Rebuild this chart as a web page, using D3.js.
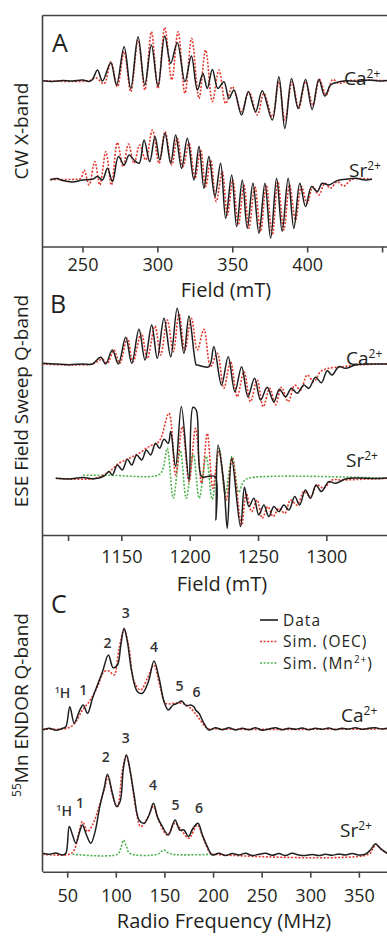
<!DOCTYPE html>
<html>
<head>
<meta charset="utf-8">
<script src="https://cdn.jsdelivr.net/npm/d3@7"></script>
<style>
  body { margin: 0; background: #fff; }
  svg text { font-family: "Open Sans", "Noto Sans", sans-serif; fill: #231f20; }
</style>
</head>
<body>
<svg id="chart" width="387" height="938"></svg>
<script>
// ---- data: [x, signal] (signal in arbitrary units) ----

// panel A: CW X-band, field in mT
const aCaData = [[223.3,0],[230,-0.7],[236.7,0.3],[243.3,-0.3],[250,0.7],[254.4,-0.7],[256.7,1.3],[260,10.7],[263.3,-0.3],[268.9,18],[272.7,-4.3],[277.8,34],[282.2,-7.7],[287.1,44],[291.6,-4.3],[296,35.7],[300.4,-5.3],[304.9,44.7],[308.9,17.3],[313.3,38],[318.4,-1],[322.7,24.7],[326.7,-9.3],[330.4,7.3],[333.3,-7.7],[336.7,11.3],[340.4,-7.7],[344.4,-1],[347.8,-17.7],[351.1,-9.3],[356.2,-34.3],[360.7,-11],[365.6,-31],[370,-10],[376.7,-39.3],[381.1,4],[385.1,-47.7],[389.6,2.3],[394,-27.7],[398.9,1.3],[403.3,-28.7],[407.8,1.3],[411.8,-15.3],[415.6,-4.3],[418.9,-2],[425.6,0],[434.4,-0.7],[441.1,0.7],[447.8,-0.3],[453.3,0.3]];
const aCaSim = [[223.3,0],[254.4,0],[258.9,3],[264.4,-3],[268.9,19],[273.3,-6],[277.8,29],[282.2,-11],[287.1,40.7],[291.6,-9.3],[296,49],[300.4,-7.7],[304.9,53.3],[309.6,0.7],[313.8,49],[318.4,-12.7],[322.9,42.3],[327.8,-17.7],[332.2,30.7],[336.7,-21],[341.1,10.7],[345.6,-22.7],[350,-6],[356.2,-31],[361.1,-11],[366.7,-34.3],[371.1,-12.7],[376.7,-36],[381.1,-1],[385.1,-39.3],[390,-1],[394.4,-27.7],[398.9,-1],[403.8,-24.3],[408.2,1.3],[412.7,-14.3],[417.1,1.3],[421.1,-2.7],[427.8,0],[453.3,0]];
const aSrData = [[228.5,-0.7],[233,0.7],[236.7,-1.3],[243.3,-2.7],[250,-0.7],[256.7,0],[260,2.7],[263.3,-0.7],[266.7,11],[270,-2.3],[274,22.7],[277.8,14.3],[281.1,24.3],[284.4,19.3],[287.8,16],[291.1,39.3],[294.9,17.7],[298.4,42.7],[301.6,19.3],[305.1,46],[308.9,16],[312.2,44.3],[316.2,11],[320,41],[324.4,-0.7],[327.8,32.7],[331.1,-9],[334.4,22.7],[338.4,-17.3],[342.2,16],[345.6,-39],[349.6,4.3],[352.9,-47.3],[356.7,-0.7],[360,-49],[363.8,-4],[367.8,-54],[371.8,-4],[375.6,-59],[379.6,1],[383.3,-52],[387.3,1],[391.1,-49],[395.1,-4],[398.9,-27.3],[402.9,-7.3],[406.7,-12.3],[410,-4],[414.4,-5.7],[420,-1.3],[425.6,0],[432.2,1],[438.9,-0.7],[443.3,0]];
const aSrSim = [[228.5,0],[245.6,0],[248.9,1],[251.1,9.3],[254.4,-5.7],[258.2,17.7],[261.6,-5.7],[265.6,27.7],[269.3,-5.7],[273.3,36.7],[277.1,12.7],[280.7,35.3],[284.4,16],[288.2,34.3],[292.2,19.3],[296.7,49.3],[301.1,16],[305.1,47.7],[309.6,14.3],[313.3,41],[317.1,12.7],[321.1,36],[325.1,1],[328.9,29.3],[332.2,-7.3],[335.6,19.3],[339.3,-22.3],[343.3,7.7],[346.7,-35.7],[350.4,-0.7],[354,-45.7],[357.8,-5.7],[361.1,-49],[365.1,-7.3],[368.9,-52.3],[372.7,-5.7],[376.7,-55.7],[380.4,-2.3],[384.4,-50.7],[388.2,-5.7],[392.2,-40.7],[396.2,-7.3],[400,-24],[403.8,-7.3],[407.8,-15.7],[411.8,-4],[415.6,-9],[420,-2.3],[424.4,-6.7],[430,0],[443.3,0]];

// panel B: ESE field sweep Q-band, field in mT
const bCaData = [[1092.3,0.7],[1102,0],[1111.7,-0.7],[1121.5,0],[1128.8,0],[1134.9,6.7],[1138.5,0],[1143.4,14],[1147.8,0],[1153.2,26.7],[1157.6,0.7],[1162.9,34.7],[1167.3,4],[1172.2,39],[1176.3,5.7],[1181.2,45.7],[1186.1,7.3],[1190.9,55.7],[1195.8,10.7],[1199.5,48],[1204.8,-1],[1205.6,-1],[1214.1,-2.7],[1217.7,17.3],[1223.3,-21],[1228.2,7.3],[1233.1,-27.7],[1238,-2.7],[1242.6,-32.7],[1247.5,-14.3],[1251.9,-36],[1256.7,-23.3],[1261.6,-37.7],[1265.7,-25.3],[1270.1,-32.7],[1274.5,-24.3],[1278.7,-29.3],[1283.5,-21],[1287.2,-24.3],[1292.1,-13.3],[1296.4,-18.7],[1300.6,-6.7],[1304.2,-11],[1309.1,-2.7],[1314,-4.3],[1321.3,-1],[1331,0],[1344.4,0]];
const bCaSim = [[1092.3,0],[1128.8,0],[1136.1,4.7],[1139.8,0.7],[1144.6,14],[1148.8,0.7],[1154.4,25.7],[1158.5,2.3],[1164.6,30.7],[1169,5.7],[1174.6,38],[1178.8,9],[1183.6,44],[1188,12.3],[1192.2,50],[1196.5,14],[1201.2,45.7],[1205.6,14],[1210.4,34.7],[1215.3,-2.7],[1220.2,10.7],[1225,-24.3],[1229.9,2.3],[1234.8,-32.7],[1239.7,-7.7],[1244.5,-37.7],[1249.4,-16],[1253.8,-42.7],[1258.6,-24.3],[1262.8,-41],[1267.2,-23.3],[1272.1,-37.7],[1276.9,-21],[1281.1,-26],[1286,-11],[1290.8,-17.7],[1295.7,-7.7],[1301.8,-4.3],[1311.5,-2.7],[1321.3,-1],[1344.4,0]];
const bSrData = [[1102,0],[1111.7,-0.7],[1121.5,0.7],[1131.2,-0.3],[1137.3,2.3],[1141,6.7],[1143.4,3.3],[1147.1,13.3],[1150.7,8.3],[1154.4,19],[1157.6,13.3],[1161.2,23.3],[1164.9,18.3],[1168.3,28.3],[1171.4,23.3],[1175.1,35],[1178,30],[1181.2,39],[1184.3,35],[1186.1,46.7],[1189.7,11.7],[1193.9,71.7],[1199.5,-1.7],[1202.4,71],[1204.8,68.3],[1208.7,1.7],[1213,1.7],[1218.7,1.7],[1219.2,-41.7],[1220.7,33.3],[1225,-5],[1227.5,-50],[1230.7,20],[1237.2,-48.3],[1240.1,-9],[1243.3,-28.3],[1247,-20],[1250.6,-36.7],[1254.3,-26.7],[1257.9,-38.3],[1261.6,-28.3],[1265.3,-33.3],[1268.9,-26.7],[1272.6,-31.7],[1276.9,-18.3],[1280.4,-26.7],[1284.7,-11.7],[1288.4,-20],[1292.5,-6.7],[1296.4,-13.3],[1301.8,-3.3],[1306.7,-5],[1314,-0.7],[1323.7,0.3],[1335.9,-0.3],[1344.4,0.3]];
const bSrSim = [[1102,0],[1131.2,0],[1141,6.7],[1148.3,15],[1155.6,20],[1162.9,25],[1170.2,31.7],[1177.5,36.7],[1184.8,65],[1189.7,3.3],[1194.6,51.7],[1199.5,-3.3],[1204.3,50],[1208.7,-5],[1212.9,45],[1217,-10],[1221.4,28.3],[1226.8,-21.7],[1231.1,20],[1238,-46.7],[1241.4,-15],[1245.3,-33.3],[1249.4,-21.7],[1253.1,-40],[1257.2,-28.3],[1261.1,-38.3],[1265.3,-30],[1269.7,-35],[1273.8,-21.7],[1278.7,-26.7],[1283.5,-13.3],[1288.4,-18.3],[1293.2,-6.7],[1298.1,-10],[1304.2,-1.7],[1311.5,-1.7],[1344.4,0]];
const bSrMn = [[1122,3],[1141,3],[1177.5,3.5],[1180.5,10],[1183.6,30],[1188,-20],[1193.1,28],[1197.5,-20],[1202.6,24],[1207,-20],[1212.1,22],[1216.5,-21],[1221.6,30],[1226,-15],[1231.1,22],[1235.9,-14],[1239.5,-3],[1244.5,0.5],[1344.4,0]];

// panel C: 55Mn ENDOR Q-band, radio frequency in MHz
const cCaData = [[24.7,-1],[31.5,0.7],[38.4,-1.3],[45.2,0.7],[48.6,2.3],[52.7,22.3],[57.2,5.7],[62.3,17.3],[66.4,24],[70.9,15.7],[76,30.7],[81.1,44],[86.3,57.3],[92.4,74],[97.2,61.3],[101.7,64],[105.1,84],[108.5,100.7],[111.9,87.3],[116.4,57.3],[122.2,37.3],[127.3,35.7],[133.5,47.3],[139.3,68],[144.5,50.7],[149.6,27.3],[154,19],[158.8,24],[163.3,25.7],[167.7,28],[172.5,23.3],[177,24],[180.5,22],[182.1,19],[185.5,15.7],[190.7,5.7],[195.8,-1],[202.6,1.3],[209.5,-0.7],[216.3,1.3],[223.2,-1],[230,0.7],[236.9,-0.7],[243.7,1.3],[250.5,-1.3],[257.4,0],[264.2,1.3],[271.1,-0.7],[277.9,0.7],[284.8,-0.3],[291.6,1],[298.5,-0.7],[305.3,0.7],[312.2,-0.3],[319,1],[325.8,-0.7],[332.7,0.7],[339.5,0],[346.4,1.3],[353.2,-0.3],[360.1,0.7],[366.9,1.3],[373.7,0],[378.9,0.7]];
const cCaSim = [[24.7,0],[45.2,0],[53.8,2.3],[58.9,7.3],[65.8,19],[72.6,27.3],[81.1,42.3],[88,57.3],[93.1,58],[98.2,54],[103.4,80.7],[108.5,99],[113.6,80.7],[118.8,47.3],[125.6,39],[132.5,50.7],[139.3,64],[145.1,44],[151.3,25.7],[159.8,25.7],[168.4,25.7],[177,20.7],[185.5,10.7],[194.1,0.7],[202.6,0],[378.9,0]];
const cSrData = [[24.7,1],[31.5,0],[38.4,1.3],[45.2,-0.7],[48.6,1],[52.1,27.7],[55.5,19.3],[58.9,11],[63,23.3],[65.7,29.3],[69.8,19.3],[74.3,11],[78.7,22.7],[83.5,47.7],[88,66],[91.4,80],[96.5,61],[100.7,47.7],[104.4,52.7],[107.8,86],[110.9,99.3],[114.3,86],[118.8,59.3],[123.9,34.3],[129.1,31],[134.2,39.3],[138.7,51],[142.7,37.7],[147.9,27.7],[154,19.3],[160.9,34.3],[165.7,24.3],[170.1,24.3],[174.6,17.7],[179.4,26],[184.5,31],[189,19.3],[194.1,7.7],[199.2,-0.7],[206.1,1],[212.9,-1.3],[219.7,0.7],[226.6,-0.7],[233.4,1],[240.3,-1.3],[247.1,0],[254,1],[260.8,-1],[267.7,0.7],[274.5,-1.3],[281.3,1],[288.2,-0.7],[295,-1.3],[301.9,-0.3],[308.7,-1.3],[315.6,0],[322.4,-1],[329.3,0.3],[336.1,-0.7],[343,0.7],[349.8,-0.7],[356.6,0],[361.8,4.3],[366.9,10.3],[372.1,6],[378.9,1]];
const cSrSim = [[24.7,0],[52.1,0],[57.2,4.3],[62.3,22.7],[65.7,32.7],[70.9,22.7],[76,29.3],[82.8,47.7],[88,64.3],[92.1,77.7],[96.5,59.3],[101.7,47.7],[106.8,84.3],[110.9,98.7],[115.4,79.3],[120.5,46],[125.6,27.7],[132.5,36],[138.7,47.7],[144.5,32.7],[153,19.3],[160.9,31],[168.4,22.7],[175.2,16],[183.8,29.3],[190.7,14.3],[197.5,1],[202.6,0],[360.1,0],[364.2,5.3],[367.6,10.3],[372.1,5.3],[378.9,1]];
const cSrMn = [[55.5,0],[101.7,0],[105.1,6],[107.8,14.3],[110.9,8],[114.3,1],[142.7,0],[147.2,3],[149.9,4.3],[153,2],[158.1,0],[197.5,0]];

// peak labels in panel C: [label, MHz, signal]
const cCaPeaks = [["3",110.2,111],["2",91.4,81],["4",139.3,77],["1",66.4,34],["5",165.6,38],["6",183,32]];
const cSrPeaks = [["3",110.2,111],["2",89.6,92],["4",138.3,64],["1",63.3,46],["5",161.5,44],["6",185.5,41]];
const hPeaks = [[45.2,31, "Ca"],[46.9,38, "Sr"]];

// axis ticks
const aTicks = [250, 300, 350, 400, 450];
const aTickLabels = [250, 300, 350, 400];
const bTicks = [1111, 1150, 1200, 1250, 1300];
const bTickLabels = [1150, 1200, 1250, 1300];
const cTicks = [50, 100, 150, 200, 250, 300, 350];
const cTickLabels = [50, 100, 150, 200, 250, 300, 350];

// ---- drawing ----
const svg = d3.select("#chart");
const plotLeft = 42.5, plotRight = 387, plotTop = 15.5;
const RED = "#e2382e", GREEN = "#4fb24f", BLACK = "#1e1e1e", AXIS = "#444";

const curve = d3.curveCatmullRom.alpha(0.5);

function drawPanel(p) {
  const x = d3.scaleLinear().domain(p.domain).range([plotLeft, plotRight]);

  const ax = svg.append("g")
    .attr("transform", `translate(0,${p.axisY})`)
    .call(d3.axisBottom(x)
      .tickValues(p.ticks)
      .tickFormat(d => p.labels.includes(d) ? d : "")
      .tickSize(6).tickSizeOuter(0).tickPadding(p.pad));
  ax.select(".domain").attr("stroke", AXIS).attr("stroke-width", 1.6);
  ax.selectAll(".tick line").attr("stroke", AXIS).attr("stroke-width", 1.6);
  ax.selectAll(".tick text").attr("font-size", 18).attr("font-family", null).style("fill", "#231f20");

  svg.append("text")
    .attr("x", p.titleX).attr("y", p.titleY)
    .attr("text-anchor", "middle").attr("font-size", 20)
    .text(p.title);

  p.traces.forEach(t => {
    const y = d3.scaleLinear().domain([0, 1]).range([t.base, t.base - 1]);
    const line = d3.line().x(d => x(d[0])).y(d => y(d[1])).curve(curve);
    svg.append("path")
      .datum(t.data)
      .attr("fill", "none")
      .attr("stroke", t.color)
      .attr("stroke-width", t.dash ? 1.6 : 1.5)
      .attr("stroke-dasharray", t.dash || null)
      .attr("stroke-linejoin", "round")
      .attr("d", line);
  });
  return x;
}

const xA = drawPanel({
  domain: [223.3, 453.3], axisY: 246.5, ticks: aTicks, labels: aTickLabels, pad: 6,
  title: "Field (mT)", titleX: 226, titleY: 297,
  traces: [
    { data: aCaSim, base: 80.7, color: RED, dash: "2,1.6" },
    { data: aCaData, base: 80.7, color: BLACK },
    { data: aSrSim, base: 179.3, color: RED, dash: "2,1.6" },
    { data: aSrData, base: 179.3, color: BLACK }
  ]
});

const xB = drawPanel({
  domain: [1092.3, 1344.4], axisY: 535, ticks: bTicks, labels: bTickLabels, pad: 9,
  title: "Field (mT)", titleX: 222, titleY: 591,
  traces: [
    { data: bCaSim, base: 364, color: RED, dash: "2,1.6" },
    { data: bCaData, base: 364, color: BLACK },
    { data: bSrMn, base: 478.3, color: GREEN, dash: "2,1.6" },
    { data: bSrSim, base: 478.3, color: RED, dash: "2,1.6" },
    { data: bSrData, base: 478.3, color: BLACK }
  ]
});

const xC = drawPanel({
  domain: [24.6, 378.9], axisY: 871.7, ticks: cTicks, labels: cTickLabels, pad: 12,
  title: "Radio Frequency (MHz)", titleX: 224, titleY: 928,
  traces: [
    { data: cCaSim, base: 729, color: RED, dash: "2,1.6" },
    { data: cCaData, base: 729, color: BLACK },
    { data: cSrMn, base: 854.3, color: GREEN, dash: "2,1.6" },
    { data: cSrSim, base: 854.3, color: RED, dash: "2,1.6" },
    { data: cSrData, base: 854.3, color: BLACK }
  ]
});

// frame: left spine and top edge
svg.append("line").attr("x1", plotLeft).attr("x2", plotLeft).attr("y1", plotTop).attr("y2", 871.7)
  .attr("stroke", AXIS).attr("stroke-width", 1.6);
svg.append("line").attr("x1", plotLeft).attr("x2", plotRight).attr("y1", plotTop).attr("y2", plotTop)
  .attr("stroke", AXIS).attr("stroke-width", 1.6);

// panel letters
[["A", 52, 52], ["B", 50, 313], ["C", 51, 613]].forEach(([t, x, y]) => {
  svg.append("text").attr("x", x).attr("y", y).attr("font-size", 25).text(t);
});

// vertical axis titles
function vLabel(cy, parts) {
  const t = svg.append("text")
    .attr("transform", `translate(28,${cy}) rotate(-90)`)
    .attr("text-anchor", "middle").attr("font-size", 19);
  parts.forEach(([s, sup]) => {
    t.append("tspan").attr("font-size", sup === 1 ? 12 : 19)
      .attr("dy", sup === 1 ? -7 : sup === 2 ? 7 : null).text(s);
  });
}
vLabel(131, [["CW X-band"]]);
vLabel(401, [["ESE Field Sweep Q-band"]]);
vLabel(705, [["55", 1], ["Mn ENDOR Q-band", 2]]);

// ion labels
function ion(x, y, base) {
  const t = svg.append("text").attr("x", x).attr("y", y).attr("font-size", 19);
  t.append("tspan").text(base);
  t.append("tspan").attr("font-size", 12).attr("dy", -7).text("2+");
}
ion(344, 85, "Ca");
ion(349, 177, "Sr");
ion(346, 365, "Ca");
ion(346, 467, "Sr");
ion(341, 722, "Ca");
ion(340, 837, "Sr");

// peak labels in panel C
function peaks(list, base) {
  const y = d3.scaleLinear().domain([0, 1]).range([base, base - 1]);
  list.forEach(([t, f, s]) => {
    svg.append("text").attr("x", xC(f)).attr("y", y(s))
      .attr("text-anchor", "middle").attr("font-size", 14).attr("font-weight", 600)
      .style("fill", "#333").text(t);
  });
}
peaks(cCaPeaks, 729);
peaks(cSrPeaks, 854.3);
hPeaks.forEach(([f, s, ionName]) => {
  const base = ionName === "Ca" ? 729 : 854.3;
  const t = svg.append("text").attr("x", xC(f)).attr("y", base - s)
    .attr("text-anchor", "middle").attr("font-size", 14).attr("font-weight", 600).style("fill", "#333");
  t.append("tspan").attr("font-size", 9).attr("dy", -5).text("1");
  t.append("tspan").attr("dy", 5).text("H");
});

// legend
const legend = [
  { label: "Data", color: BLACK, dash: null, y: 620 },
  { label: "Sim. (OEC)", color: RED, dash: "2,1.6", y: 641.5 },
  { label: "Sim. (Mn", color: GREEN, dash: "2,1.6", y: 663, sup: "2+", tail: ")" }
];
legend.forEach(d => {
  svg.append("line").attr("x1", 260).attr("x2", 278).attr("y1", d.y).attr("y2", d.y)
    .attr("stroke", d.color).attr("stroke-width", 1.6).attr("stroke-dasharray", d.dash);
  const t = svg.append("text").attr("x", 283).attr("y", d.y + 5.5).attr("font-size", 15.5)
    .attr("letter-spacing", 1);
  t.append("tspan").text(d.label);
  if (d.sup) {
    t.append("tspan").attr("font-size", 10).attr("dy", -6).text(d.sup);
    t.append("tspan").attr("dy", 6).text(d.tail);
  }
});
</script>
</body>
</html>
